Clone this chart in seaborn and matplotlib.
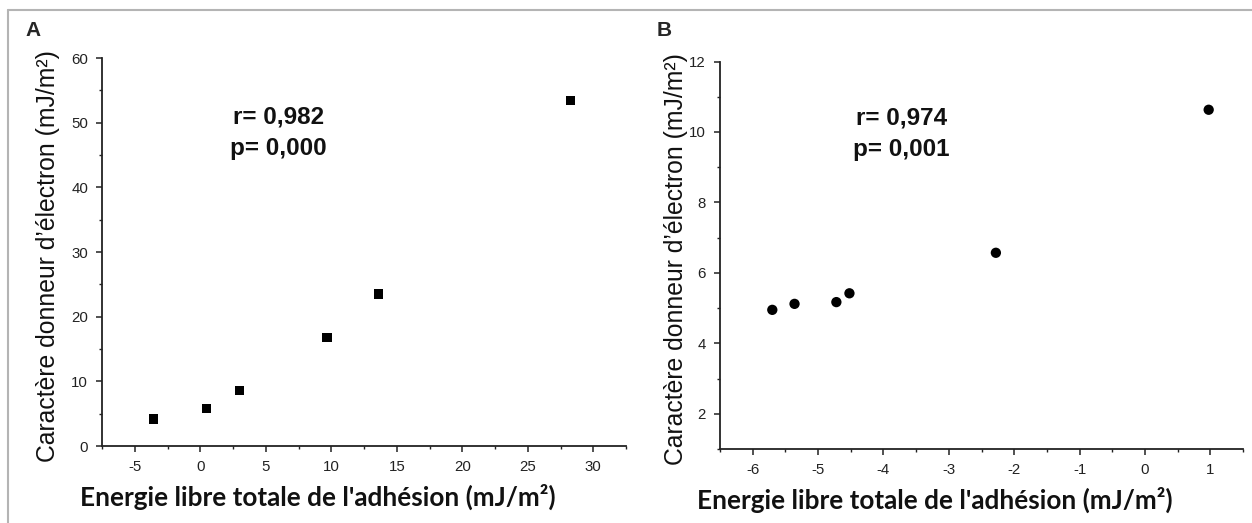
import matplotlib
matplotlib.use("Agg")
import matplotlib.pyplot as plt
from matplotlib.ticker import MultipleLocator
from matplotlib.lines import Line2D
import seaborn as sns
import pandas as pd

# Panel A data
a_x = [-3.58, 0.46, 3.0, 9.67, 13.6, 28.24]
a_y = [4.18, 5.83, 8.62, 16.73, 23.49, 53.48]
# Panel B data
b_x = [-5.70, -5.36, -4.72, -4.52, -2.28, 0.975]
b_y = [4.95, 5.12, 5.17, 5.42, 6.57, 10.63]

panel_labels = ["A", "B"]
stats_a = "r= 0,982\np= 0,000"
stats_b = "r= 0,974\np= 0,001"
xlabel = "Energie libre totale de l'adhésion (mJ/m²)"
ylabel = "Caractère donneur d\u2019électron (mJ/m²)"

sns.set_style("ticks")
plt.rcParams['font.family'] = ['Liberation Sans', 'DejaVu Sans']
plt.rcParams['axes.unicode_minus'] = False

W, H = 1252, 523
fig = plt.figure(figsize=(W / 100, H / 100), dpi=100)

def fx(px):
    return px / W

def fy(py):
    return 1 - py / H

axA = fig.add_axes([fx(102), fy(446), 524 / W, 388 / H])
axB = fig.add_axes([fx(720), fy(449), 523 / W, 387.5 / H])

dfa = pd.DataFrame({"x": a_x, "y": a_y})
dfb = pd.DataFrame({"x": b_x, "y": b_y})

sns.scatterplot(data=dfa, x="x", y="y", marker="s", s=45, color="black",
                edgecolor="none", ax=axA, legend=False)
sns.scatterplot(data=dfb, x="x", y="y", marker="o", s=55, color="black",
                edgecolor="none", ax=axB, legend=False)

axA.set_xlim(-7.5, 32.5)
axA.set_ylim(0, 60)
axA.xaxis.set_major_locator(MultipleLocator(5))
axA.xaxis.set_minor_locator(MultipleLocator(2.5))
axA.yaxis.set_major_locator(MultipleLocator(10))
axA.yaxis.set_minor_locator(MultipleLocator(5))

axB.set_xlim(-6.5, 1.5)
axB.set_ylim(1, 12)
axB.xaxis.set_major_locator(MultipleLocator(1))
axB.xaxis.set_minor_locator(MultipleLocator(0.5))
axB.yaxis.set_major_locator(MultipleLocator(2))
axB.yaxis.set_minor_locator(MultipleLocator(1))

xlab_font = dict(family=['Lato', 'DejaVu Sans'], fontweight='bold', fontsize=18.8, color='#111111')
ylab_font = dict(family=['Liberation Sans', 'DejaVu Sans'], fontsize=17.8, color='#111111')

for ax, stats, sx, sy, lab_xfrac, ylab_xfrac in [
    (axA, stats_a, 5.98, 48.4, 0.412, -0.103),
    (axB, stats_b, -3.73, 9.95, 0.411, -0.084),
]:
    sns.despine(ax=ax)
    for sp in ("left", "bottom"):
        ax.spines[sp].set_linewidth(1.3)
        ax.spines[sp].set_color("#222222")
    ax.tick_params(which="major", direction="out", length=4, width=1.1,
                   labelsize=10.8, colors="#222222", pad=6)
    ax.tick_params(which="minor", direction="out", length=2.5, width=1.0,
                   colors="#222222")
    ax.set_xlabel(xlabel, **xlab_font)
    ax.set_ylabel(ylabel, **ylab_font)
    ax.xaxis.label.set_va("center")
    ax.yaxis.label.set_va("center")
    ax.xaxis.set_label_coords(lab_xfrac, -0.132)
    ax.yaxis.set_label_coords(ylab_xfrac, 0.49)
    ax.text(sx, sy, stats, ha="center", va="center", fontsize=17.5,
            fontweight="bold", linespacing=1.45, color="#111111")

fig.text(fx(33), fy(30), panel_labels[0], ha="center", va="center",
         fontsize=15, fontweight="bold")
fig.text(fx(664), fy(30), panel_labels[1], ha="center", va="center",
         fontsize=15, fontweight="bold")

# light grey frame around the figure (top and left visible)
fig.add_artist(Line2D([fx(8), 1.0], [fy(10), fy(10)], color="#b4b4b4", lw=1.5,
                      transform=fig.transFigure))
fig.add_artist(Line2D([fx(8), fx(8)], [fy(10), 0.0], color="#b4b4b4", lw=1.5,
                      transform=fig.transFigure))

fig.savefig("out.png", dpi=100)
